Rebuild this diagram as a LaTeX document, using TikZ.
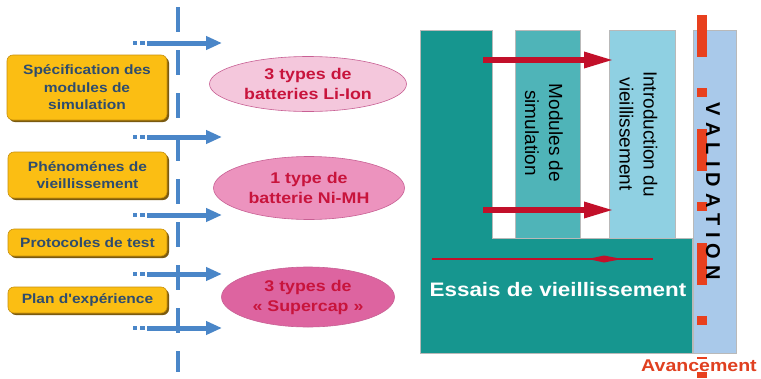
\documentclass[tikz,border=0pt]{standalone}
\usepackage{fontspec}
\setmainfont{Liberation Sans}
\newfontfamily\widefont[FakeStretch=1.15]{Liberation Sans}
\usetikzlibrary{shapes.geometric,arrows.meta,shadows}
\definecolor{bl}{HTML}{4A86C8}
\definecolor{yfill}{HTML}{FBBE13}
\definecolor{yedge}{HTML}{C8900A}
\definecolor{yshadow}{HTML}{7A5A10}
\definecolor{ytext}{HTML}{2E4C6E}
\definecolor{eA}{HTML}{F4C7DC}
\definecolor{eB}{HTML}{EC93BE}
\definecolor{eC}{HTML}{DD64A0}
\definecolor{eedge}{HTML}{C86094}
\definecolor{etext}{HTML}{C8143C}
\definecolor{tealA}{HTML}{16968F}
\definecolor{tealB}{HTML}{4FB4B8}
\definecolor{cyanC}{HTML}{8FD0E2}
\definecolor{valc}{HTML}{A9C9EA}
\definecolor{dred}{HTML}{C2102A}
\definecolor{dashred}{HTML}{E8401E}
\definecolor{avred}{HTML}{E04020}
\tikzset{
  ybox/.style={rectangle, rounded corners=6pt, fill=yfill, draw=yedge, line width=0.6pt,
    align=center, text=ytext, inner sep=0pt,
    font=\widefont\bfseries\fontsize{13.5}{17.5}\selectfont,
    drop shadow={shadow xshift=2pt, shadow yshift=-2pt, fill=yshadow, opacity=1}},
  ell/.style={ellipse, inner sep=0pt, align=center, text=etext, draw=eedge, line width=0.6pt,
    font=\widefont\bfseries\fontsize{15.5}{20}\selectfont},
  blueline/.style={draw=bl, line width=4pt, dash pattern=on 25pt off 18pt},
  bluearrow/.style={draw=bl, line width=5pt, -{Triangle[length=16pt,width=13pt]}},
  col/.style={rectangle, draw=gray!55, line width=0.5pt, inner sep=0pt},
  rottext/.style={rotate=-90, align=center, text=black, inner sep=0pt,
    font=\fontsize{19}{24}\selectfont},
  redarrow/.style={draw=dred, line width=6pt, -{Triangle[length=30pt,width=15pt]}},
}
\newcommand\lsp{\kern6.1pt}
\begin{document}
\begin{tikzpicture}[x=1pt,y=-1pt]
\useasboundingbox (0,0) rectangle (761,378);
\fill[white] (0,0) rectangle (761,378);

% vertical dashed blue line
\coordinate (vtop) at (178,7);
\coordinate (vbot) at (178,372);
\draw[blueline] (vtop) -- (vbot);

% yellow boxes
\node[ybox, minimum width=160pt, minimum height=65pt] (b1) at (87,87.5) {Spécification des\\modules de\\simulation};
\node[ybox, minimum width=159pt, minimum height=46pt] (b2) at (87.5,175) {Phénoménes de\\vieillissement};
\node[ybox, minimum width=159pt, minimum height=27pt] (b3) at (87.5,242.5) {Protocoles de test};
\node[ybox, minimum width=159pt, minimum height=26pt] (b4) at (87.5,300) {Plan d'expérience};

% blue arrows
\foreach \i/\y in {1/43,2/137,3/215,4/274,5/328}{
  \fill[bl] (133,\y-2.2) rectangle (137,\y+2.2);
  \fill[bl] (140,\y-2.2) rectangle (145,\y+2.2);
  \coordinate (ai\i) at (147,\y);
  \coordinate (ao\i) at (222,\y);
  \draw[bluearrow] (ai\i) -- (ao\i);
}

% ellipses
\node[ell, fill=eA, minimum width=197pt, minimum height=55pt] (e1) at (308,84) {3 types de\\batteries Li-Ion};
\node[ell, fill=eB, minimum width=191pt, minimum height=63pt] (e2) at (309,188) {1 type de\\batterie Ni-MH};
\node[ell, fill=eC, minimum width=173pt, minimum height=60pt] (e3) at (308,297) {3 types de\\« Supercap »};

% right block
\filldraw[fill=tealA, draw=gray!55, line width=0.5pt] (420,30) -- (492,30) -- (492,238) -- (692,238) -- (692,353) -- (420,353) -- cycle;
\node[col, fill=tealB, minimum width=65pt, minimum height=208pt] (c2) at (547.5,134) {};
\node[col, fill=cyanC, minimum width=66pt, minimum height=208pt] (c3) at (642,134) {};
\node[col, fill=valc, minimum width=43pt, minimum height=323pt] (cv) at (714.5,191.5) {};

\node[rottext] (tm) at (544,133) {Modules de\\simulation};
\node[rottext] (ti) at (638.5,134) {Introduction du\\vieillissement};

% red arrows
\coordinate (r1s) at (483,60);
\coordinate (r1e) at (614,60);
\coordinate (r2s) at (483,210);
\coordinate (r2e) at (614,210);
\draw[redarrow] (r1s) -- (r1e);
\draw[redarrow] (r2s) -- (r2e);

% thin red line
\coordinate (t1) at (432,259);
\coordinate (t2) at (653,259);
\draw[dred, line width=1.8pt] (t1) -- (t2);
\fill[dred] (588,259) -- (604,255.5) -- (622,259) -- (604,262.5) -- cycle;

\node[text=white, inner sep=0pt, font=\widefont\bfseries\fontsize{19.5}{24}\selectfont] (ess) at (558,290) {Essais de vieillissement};

% red dashed line
\coordinate (d1) at (702,15);
\coordinate (d2) at (702,378);
\draw[dashred, line width=10pt, dash pattern=on 42pt off 31pt on 9pt off 32pt] (d1) -- (d2);

\node[rotate=-90, inner sep=0pt, text=black, font=\bfseries\fontsize{20}{22}\selectfont] (val) at (713,191.5)
  {V\lsp A\lsp L\lsp I\lsp D\lsp A\lsp T\lsp I\lsp O\lsp N};

\node[fill=white, inner sep=0.5pt, text=avred, font=\widefont\bfseries\fontsize{17}{20}\selectfont] (av) at (699,365.5) {Avancement};
\end{tikzpicture}
\end{document}
